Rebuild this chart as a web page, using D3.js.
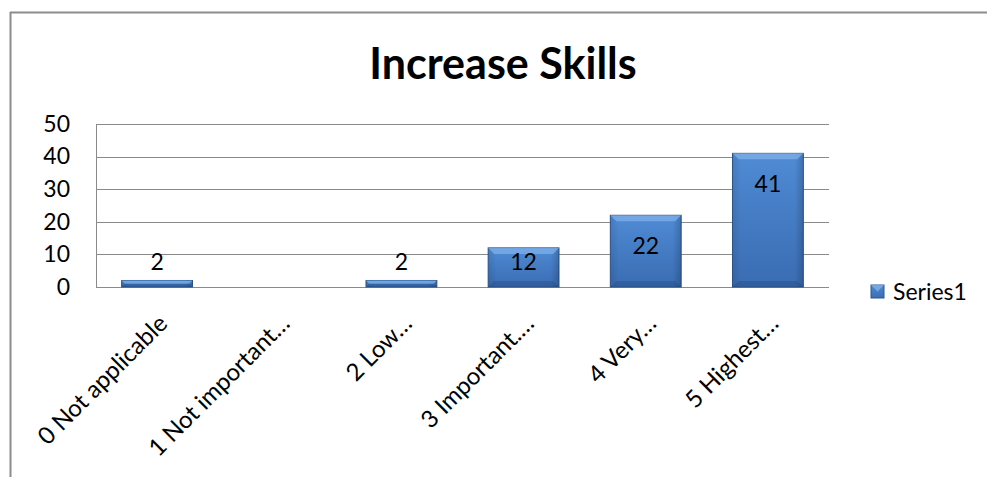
<!DOCTYPE html>
<html><head><meta charset="utf-8">
<script src="https://cdn.jsdelivr.net/npm/d3@7"></script>
<style>body{margin:0;background:#fff}svg{display:block}</style>
</head><body>
<svg id="c" width="987" height="477"></svg>
<script>
const title = "Increase Skills";
const categories = ["0 Not applicable","1 Not important\u2026","2 Low\u2026","3 Important.\u2026","4 Very\u2026","5 Highest\u2026"];
const values = [2, null, 2, 12, 22, 41];
const yTicks = [0, 10, 20, 30, 40, 50];
const seriesName = "Series1";

const W = 987, H = 477;
const FONT = "Lato, 'Open Sans', sans-serif";
const svg = d3.select("#c");
const m = {left: 96, right: 829, top: 124, bottom: 287};

const defs = svg.append("defs");
const g1 = defs.append("linearGradient").attr("id","barg").attr("x1",0).attr("y1",0).attr("x2",0).attr("y2",1);
g1.append("stop").attr("offset","0%").attr("stop-color","#4f8bd4");
g1.append("stop").attr("offset","100%").attr("stop-color","#3a6cb2");
const g2 = defs.append("linearGradient").attr("id","barh").attr("x1",0).attr("y1",0).attr("x2",1).attr("y2",0);
g2.append("stop").attr("offset","0%").attr("stop-color","#000").attr("stop-opacity",0.10);
g2.append("stop").attr("offset","12%").attr("stop-color","#000").attr("stop-opacity",0);
g2.append("stop").attr("offset","88%").attr("stop-color","#000").attr("stop-opacity",0);
g2.append("stop").attr("offset","100%").attr("stop-color","#000").attr("stop-opacity",0.18);

// outer frame
svg.append("line").attr("x1",10).attr("x2",W).attr("y1",12.5).attr("y2",12.5).attr("stroke","#8c8c8c").attr("stroke-width",2);
svg.append("line").attr("x1",10.5).attr("x2",10.5).attr("y1",12).attr("y2",H).attr("stroke","#8c8c8c").attr("stroke-width",2);

// title
svg.append("text").attr("x",503).attr("y",79).attr("text-anchor","middle")
  .attr("font-family",FONT).attr("font-weight","bold").attr("font-size",43).attr("fill","#000").text(title);

const x = d3.scaleBand().domain(categories).range([m.left, m.right]).paddingInner(0.42).paddingOuter(0.21);
const y = d3.scaleLinear().domain([0, 50]).range([m.bottom, m.top]);

// gridlines
svg.append("g").selectAll("line").data(yTicks).join("line")
  .attr("x1",m.left).attr("x2",m.right)
  .attr("y1",d=>Math.round(y(d))+0.5).attr("y2",d=>Math.round(y(d))+0.5)
  .attr("stroke","#8a8a8a").attr("stroke-width",1);
// y axis line
svg.append("line").attr("x1",m.left+0.5).attr("x2",m.left+0.5).attr("y1",y(50)).attr("y2",y(0)+0.5).attr("stroke","#8a8a8a");

// y tick labels
const yAxis = d3.axisLeft(y).tickValues(yTicks).tickSize(0).tickPadding(26);
const ya = svg.append("g").attr("transform",`translate(${m.left},0)`).call(yAxis);
ya.select(".domain").remove();
ya.selectAll("text").attr("font-family",FONT).attr("font-size",23).attr("fill","#000");

// bars
const data = categories.map((c,i)=>({c, v: values[i]})).filter(d=>d.v!=null);
const bars = svg.append("g").selectAll("g").data(data).join("g");
bars.append("rect")
  .attr("x",d=>x(d.c)).attr("y",d=>y(d.v)).attr("width",x.bandwidth()).attr("height",d=>y(0)-y(d.v))
  .attr("fill","url(#barg)").attr("stroke","#2c568f").attr("stroke-width",1);
bars.append("rect")
  .attr("x",d=>x(d.c)).attr("y",d=>y(d.v)).attr("width",x.bandwidth()).attr("height",d=>y(0)-y(d.v))
  .attr("fill","url(#barh)");
// top bevel
bars.append("path").attr("fill","#7fb0ea").attr("opacity",0.75)
  .attr("d",d=>{const x0=x(d.c), x1=x0+x.bandwidth(), t=y(d.v), b=Math.min(6,(y(0)-y(d.v))/2);
    return `M${x0},${t}L${x1},${t}L${x1-b},${t+b}L${x0+b},${t+b}Z`;});
// bottom bevel
bars.append("path").attr("fill","#1f4677").attr("opacity",0.35)
  .attr("d",d=>{const x0=x(d.c), x1=x0+x.bandwidth(), bt=y(0), b=Math.min(6,(y(0)-y(d.v))/2);
    return `M${x0},${bt}L${x1},${bt}L${x1-b},${bt-b}L${x0+b},${bt-b}Z`;});

// data labels
bars.append("text")
  .attr("x",d=>x(d.c)+x.bandwidth()/2)
  .attr("y",d=>{const h=y(0)-y(d.v);
     if(h<20) return y(d.v)-19;
     if(h<62) return y(d.v)+14;
     return y(d.v)+31;})
  .attr("dy","0.35em").attr("text-anchor","middle")
  .attr("font-family",FONT).attr("font-size",23).attr("fill","#000").text(d=>d.v);

// x labels
svg.append("g").selectAll("text").data(categories).join("text")
  .attr("transform",d=>`translate(${x(d)+x.bandwidth()/2+6},${m.bottom+32}) rotate(-45)`)
  .attr("text-anchor","end").attr("dy","0.35em")
  .attr("font-family",FONT).attr("font-size",24).attr("fill","#000").text(d=>d);

// legend
const lg = svg.append("g").attr("transform","translate(871,285)");
lg.append("rect").attr("width",13).attr("height",13).attr("fill","url(#barg)").attr("stroke","#2c568f");
lg.append("path").attr("d","M0,0L13,0L6.5,6.5Z").attr("fill","#7fb0ea").attr("opacity",0.8);
lg.append("text").attr("x",22).attr("y",6.5).attr("dy","0.35em").attr("font-family",FONT).attr("font-size",23).attr("fill","#000").text(seriesName);
</script>
</body></html>
